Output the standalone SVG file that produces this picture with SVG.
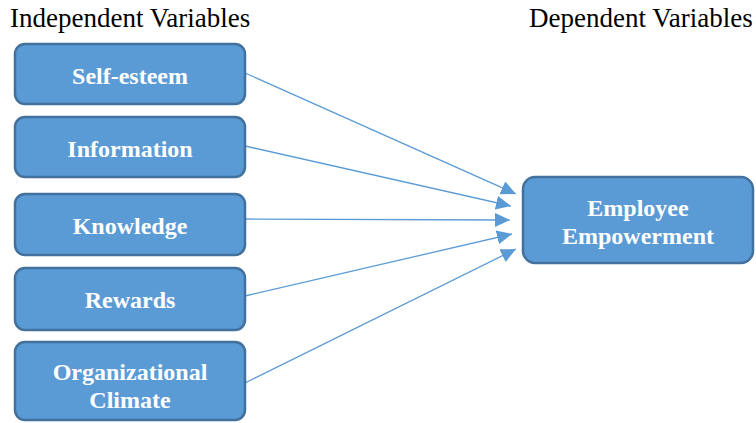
<svg xmlns="http://www.w3.org/2000/svg" width="756" height="423" viewBox="0 0 756 423">
<style>
.box{fill:#5B9BD5;stroke:#41719C;stroke-width:2.5}
.lbl{font-family:"Liberation Serif","Times New Roman",serif;font-weight:bold;font-size:24px;fill:#fff;text-anchor:middle}
.hd{font-family:"Liberation Serif","Times New Roman",serif;font-size:27px;fill:#000}
.conn{stroke:#5B9BD5;stroke-width:1.3;fill:none;marker-end:url(#ah)}
</style>
<defs>
<marker id="ah" markerUnits="userSpaceOnUse" markerWidth="16" markerHeight="14" refX="15" refY="7" orient="auto">
<path d="M0,0 L15,7 L0,14 Z" fill="#5B9BD5"/>
</marker>
</defs>
<text class="hd" x="10" y="27">Independent Variables</text>
<text class="hd" x="529" y="27">Dependent Variables</text>
<g id="connectors">
<line class="conn" x1="245" y1="73" x2="516" y2="194"/>
<line class="conn" x1="245" y1="146" x2="511" y2="206"/>
<line class="conn" x1="245" y1="219" x2="510" y2="220"/>
<line class="conn" x1="245" y1="296" x2="512" y2="234"/>
<line class="conn" x1="245" y1="383" x2="516" y2="249"/>
</g>
<g id="self-esteem"><rect class="box" x="15" y="44" width="230" height="60" rx="10"/><text class="lbl" x="130" y="84">Self-esteem</text></g>
<g id="information"><rect class="box" x="15" y="117" width="230" height="60" rx="10"/><text class="lbl" x="130" y="157">Information</text></g>
<g id="knowledge"><rect class="box" x="15" y="194" width="230" height="61" rx="10"/><text class="lbl" x="130" y="234">Knowledge</text></g>
<g id="rewards"><rect class="box" x="15" y="268" width="230" height="62" rx="10"/><text class="lbl" x="130" y="308">Rewards</text></g>
<g id="organizational-climate"><rect class="box" x="15" y="342" width="230" height="78" rx="10"/><text class="lbl" x="130" y="380">Organizational</text><text class="lbl" x="130" y="408">Climate</text></g>
<g id="employee-empowerment"><rect class="box" x="523" y="177" width="230" height="86" rx="12"/><text class="lbl" x="638" y="216">Employee</text><text class="lbl" x="638" y="244">Empowerment</text></g>
</svg>
